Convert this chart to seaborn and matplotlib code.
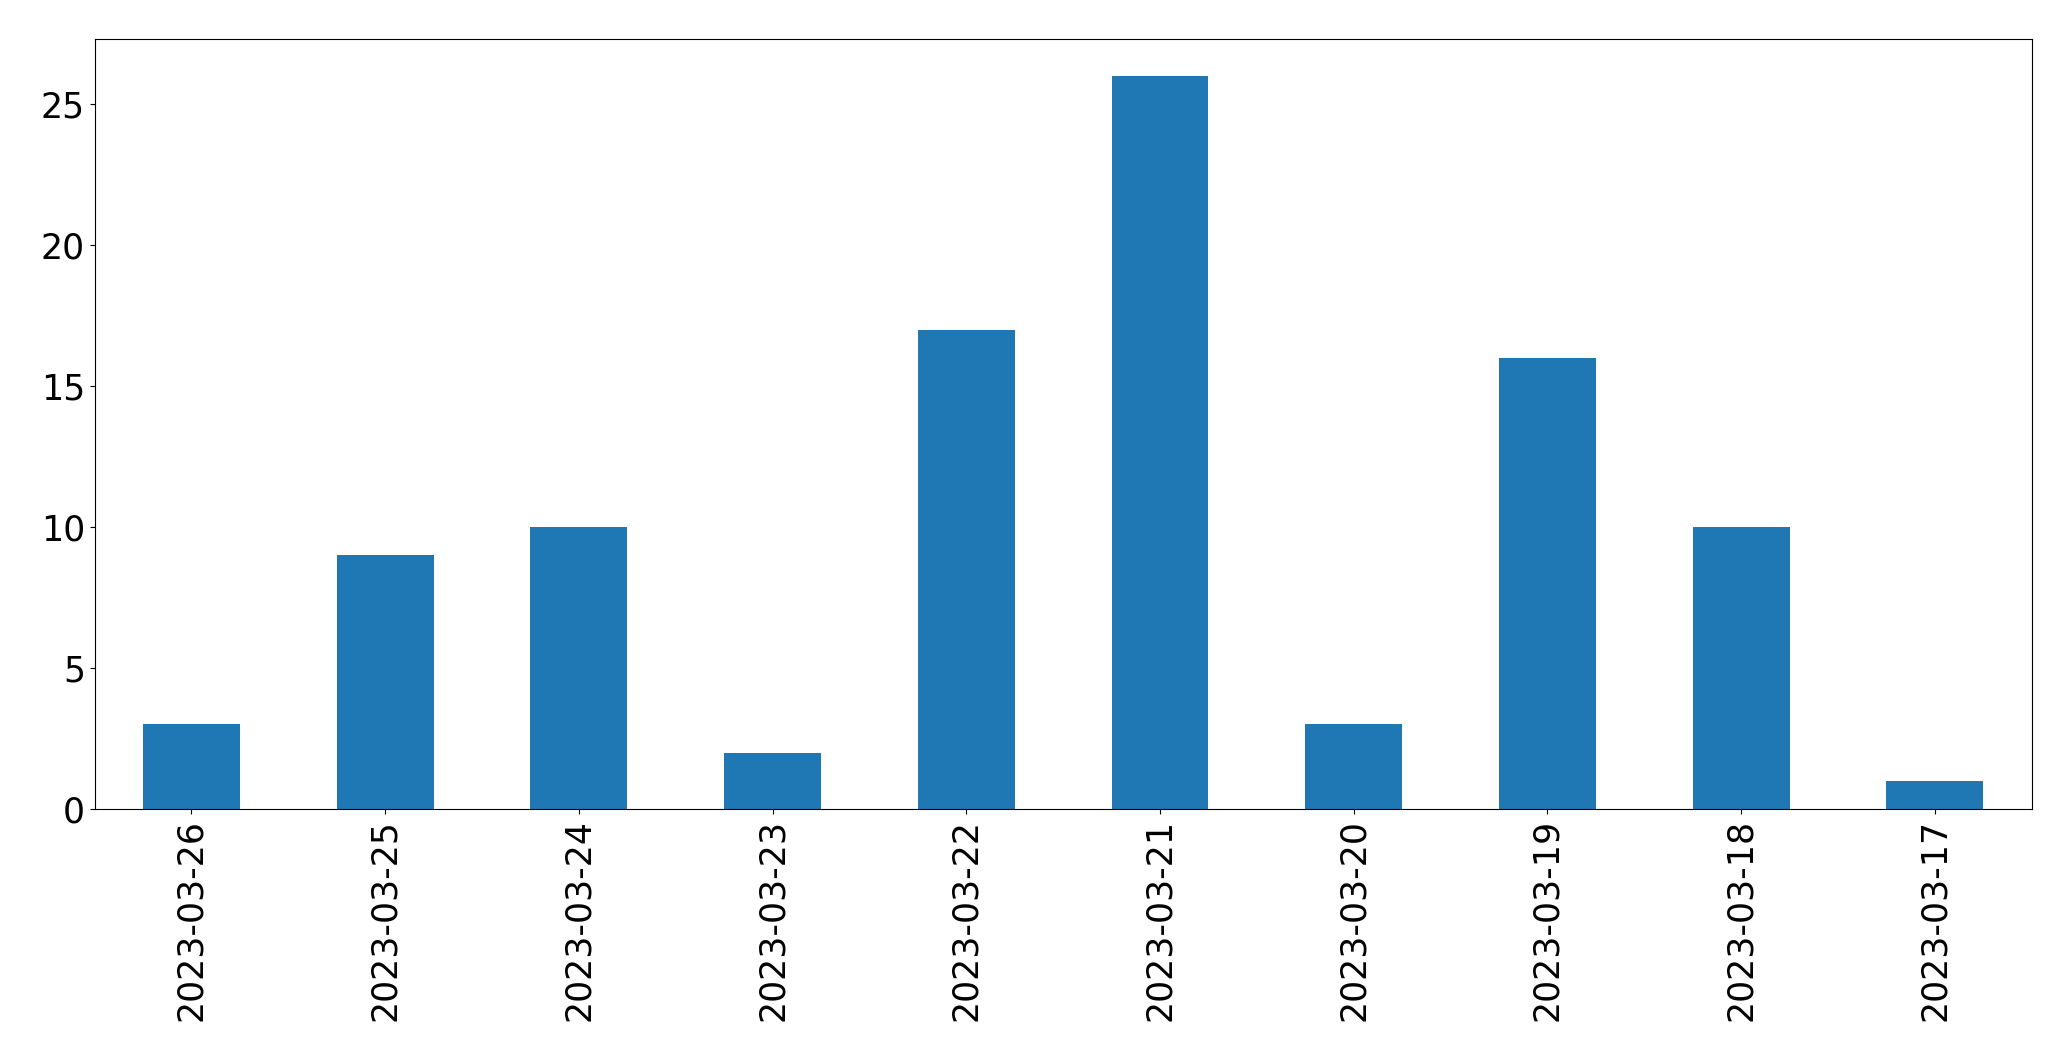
import matplotlib
matplotlib.use("Agg")
import matplotlib.pyplot as plt
import seaborn as sns
import pandas as pd

dates = ["2023-03-26", "2023-03-25", "2023-03-24", "2023-03-23", "2023-03-22",
         "2023-03-21", "2023-03-20", "2023-03-19", "2023-03-18", "2023-03-17"]
counts = [3, 9, 10, 2, 17, 26, 3, 16, 10, 1]

df = pd.DataFrame({"date": dates, "count": counts})

fig = plt.figure(figsize=(20.71, 10.61), dpi=100)
ax = fig.add_axes([0.0457, 0.2375, 0.9353, 0.7255])
sns.barplot(data=df, x="date", y="count", order=dates, color="#1f77b4",
            saturation=1, width=0.5, ax=ax)
ax.set_xlim(-0.5, len(dates) - 0.5)
ax.set_ylim(0, max(counts) * 1.05)
ax.set_xlabel("")
ax.set_ylabel("")
ax.tick_params(axis="both", labelsize=25)
ax.tick_params(axis="x", labelrotation=90)
fig.savefig("out.png", dpi=100)
